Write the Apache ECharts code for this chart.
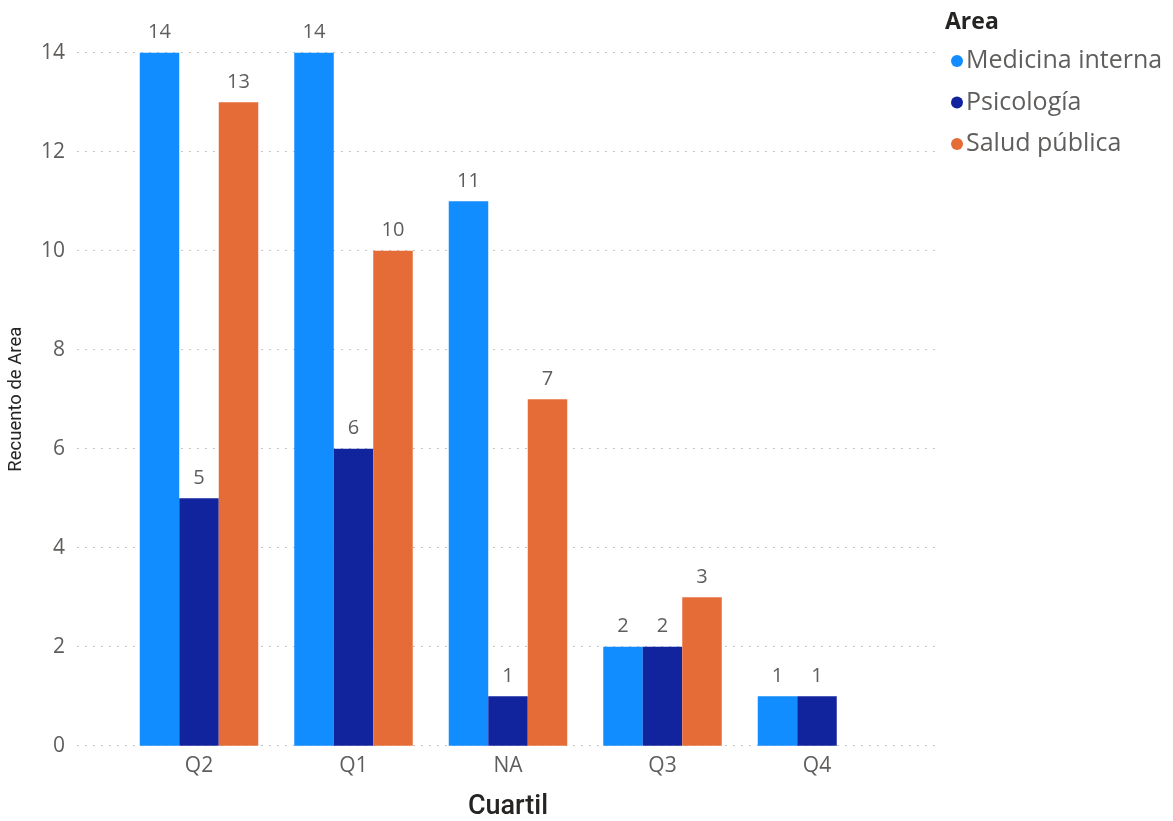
<!DOCTYPE html>
<html>
<head>
<meta charset="utf-8">
<script src="https://cdn.jsdelivr.net/npm/echarts@6/dist/echarts.min.js"></script>
<style>
html,body{margin:0;padding:0;background:#fff;}
#chart{width:1173px;height:821px;}
</style>
</head>
<body>
<div id="chart"></div>
<script>
const categories = ['Q2', 'Q1', 'NA', 'Q3', 'Q4'];
const medicinaInterna = [14, 14, 11, 2, 1];
const psicologia = [5, 6, 1, 2, 1];
const saludPublica = [13, 10, 7, 3, null];
const seriesNames = ['Medicina interna', 'Psicología', 'Salud pública'];
const seriesColors = ['#118DFF', '#12239E', '#E66C37'];
const yTicks = { min: 0, max: 14, interval: 2 };

const FONT = '"Open Sans", "Noto Sans", sans-serif';
const TITLE_FONT = '"Roboto", "Noto Sans", sans-serif';
const chart = echarts.init(document.getElementById('chart'), null, { renderer: 'canvas' });

function barSeries(name, data, color) {
  return {
    name: name,
    type: 'bar',
    xAxisIndex: 1,
    yAxisIndex: 1,
    data: data,
    barWidth: 39.5,
    barGap: '0%',
    itemStyle: { color: color },
    label: {
      show: true,
      position: 'top',
      distance: 10,
      color: '#605E5C',
      fontFamily: FONT,
      fontSize: 20
    },
    emphasis: { disabled: true }
  };
}

chart.setOption({
  animation: false,
  backgroundColor: '#ffffff',
  title: {
    text: 'Area',
    left: 940,
    top: 6,
    textStyle: { fontFamily: FONT, fontSize: 23, fontWeight: 'bold', color: '#252423' }
  },
  legend: {
    orient: 'vertical',
    left: 946,
    top: 42,
    icon: 'circle',
    itemWidth: 12,
    itemHeight: 12,
    itemGap: 13.5,
    data: seriesNames,
    textStyle: { fontFamily: FONT, fontSize: 25, color: '#605E5C', lineHeight: 28, padding: [0, 0, 0, -2] }
  },
  grid: [
    { left: 77, right: 235, top: 52.7, bottom: 75.3, containLabel: false, outerBoundsMode: 'none' },
    { left: 121.75, width: 772.5, top: 52.7, bottom: 75.3, containLabel: false, outerBoundsMode: 'none' }
  ],
  xAxis: [
    { type: 'category', gridIndex: 0, data: categories, show: false },
    {
      type: 'category', gridIndex: 1, data: categories,
      axisLine: { show: false }, axisTick: { show: false },
      axisLabel: { color: '#605E5C', fontFamily: FONT, fontSize: 21, margin: 10 },
      name: 'Cuartil', nameLocation: 'middle', nameGap: 48,
      nameTextStyle: { fontFamily: TITLE_FONT, fontSize: 27, fontWeight: 500, color: '#252423' }
    }
  ],
  yAxis: [
    {
      type: 'value', gridIndex: 0, min: yTicks.min, max: yTicks.max, interval: yTicks.interval,
      axisLine: { show: false }, axisTick: { show: false },
      axisLabel: { color: '#605E5C', fontFamily: FONT, fontSize: 21, margin: 12 },
      splitLine: { show: true, lineStyle: { color: '#C8C6C4', width: 1.2, type: [2, 6] } },
      name: 'Recuento de Area', nameLocation: 'middle', nameGap: 51, nameRotate: 90,
      nameTextStyle: { fontFamily: TITLE_FONT, fontSize: 18.5, color: '#252423' }
    },
    {
      type: 'value', gridIndex: 1, min: yTicks.min, max: yTicks.max, interval: yTicks.interval, show: false,
      splitLine: { show: false }
    }
  ],
  series: [
    barSeries(seriesNames[0], medicinaInterna, seriesColors[0]),
    barSeries(seriesNames[1], psicologia, seriesColors[1]),
    barSeries(seriesNames[2], saludPublica, seriesColors[2])
  ]
});
</script>
</body>
</html>
